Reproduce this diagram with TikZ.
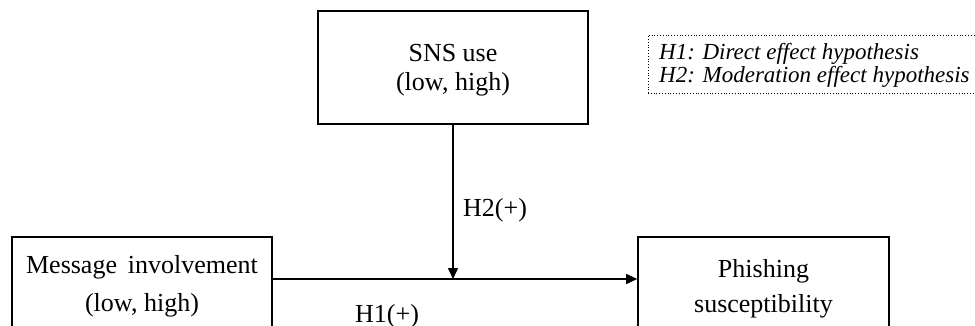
\documentclass[tikz,border=0pt]{standalone}
\usepackage{fontspec}
\setmainfont{Liberation Serif}
\usetikzlibrary{arrows.meta}
\begin{document}
\begin{tikzpicture}[x=1pt,y=-1pt,
  box/.style={draw=black,line width=1.6pt,rectangle,inner sep=0pt},
  txt/.style={inner sep=0pt,align=center},
  conn/.style={line width=1.5pt,-{Triangle[length=11pt,width=10pt]}},
  lbl/.style={inner sep=0pt,anchor=base west,font=\fontsize{26}{30}\selectfont},
  legline/.style={inner sep=0pt,anchor=base west,font=\fontsize{23}{23}\selectfont\itshape},
  legendbox/.style={draw=black,dotted,line width=0.8pt,rectangle,inner sep=0pt}]
\useasboundingbox (0,0) rectangle (975,326);
\clip (0,0) rectangle (975,326);
\node[box,minimum width=270pt,minimum height=113pt] (sns) at (453,67.5) {};
\node[txt,font=\fontsize{26}{29}\selectfont] (snst) at (sns.center) [yshift=-2.5pt] {SNS use\\(low, high)};
\node[box,minimum width=260pt,minimum height=110pt] (msg) at (142,292) {};
\node[txt,font=\fontsize{26}{38}\selectfont] (msgt) at (142,286) {Message\, involvement\\(low, high)};
\node[box,minimum width=251pt,minimum height=110pt] (phish) at (763.5,292) {};
\node[txt,font=\fontsize{26}{35}\selectfont] (phisht) at (763.5,289) {Phishing\\susceptibility};
\coordinate (hs) at ([yshift=13pt]msg.east);
\coordinate (he) at ([yshift=13pt]phish.west);
\coordinate (j) at (sns.south |- hs);
\draw[conn] (hs) -- (he);
\draw[conn] (sns.south) -- (j);
\node[lbl] (h2) at (463,216) {H2(+)};
\node[lbl] (h1) at (355,322) {H1(+)};
\node[legendbox,minimum width=340pt,minimum height=58pt] (leg) at (818,64) {};
\node[legline] (l1) at (659,60) {H1: Direct effect hypothesis};
\node[legline] (l2) at (659,83) {H2: Moderation effect hypothesis};
\end{tikzpicture}
\end{document}
